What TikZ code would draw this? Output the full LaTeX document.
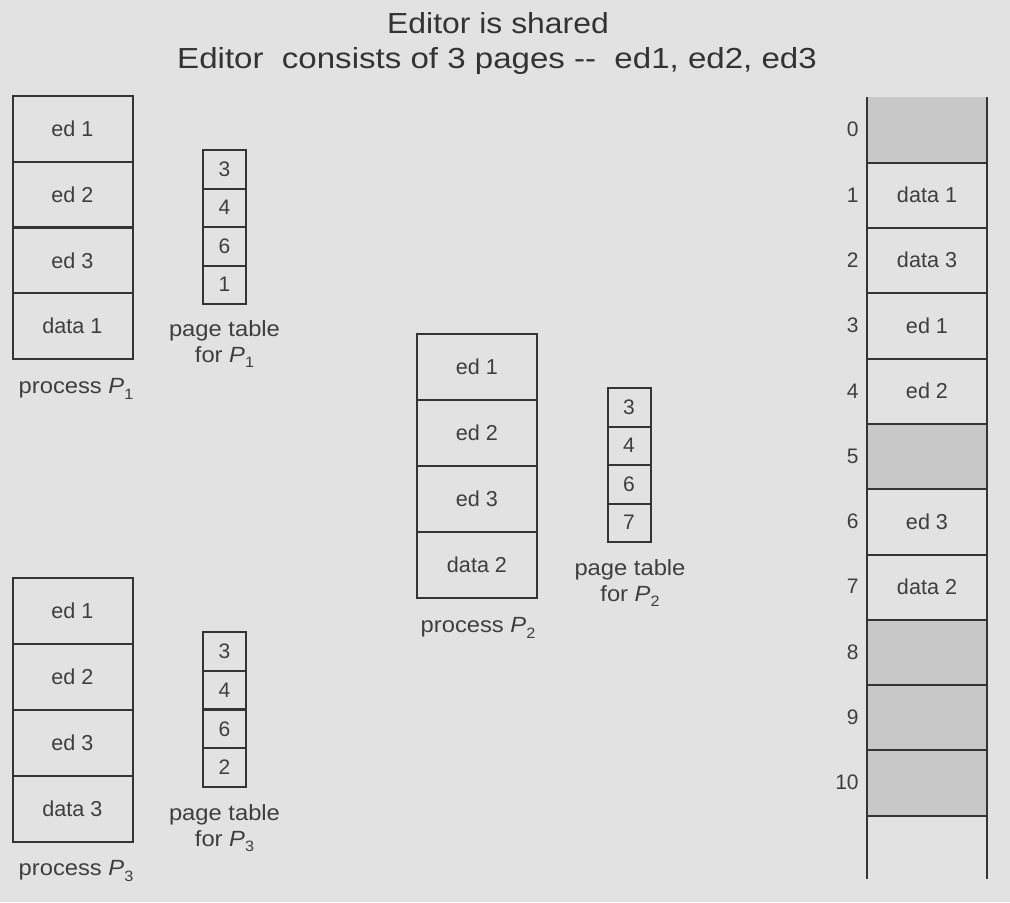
\documentclass[tikz,border=0pt]{standalone}
\usepackage{fontspec}
\setmainfont{Liberation Sans}
\definecolor{bg}{RGB}{226,226,226}
\definecolor{shade}{RGB}{200,200,201}
\definecolor{ln}{RGB}{52,52,52}
\definecolor{tx}{RGB}{62,62,62}
\newcommand{\subP}[1]{\textit{P}\raisebox{-0.45ex}{\fontsize{7.5}{9}\selectfont #1}}
\begin{document}
\begin{tikzpicture}[x=0.5pt,y=-0.5pt,
  cell/.style={draw=ln,line width=1pt,minimum width=60pt,minimum height=33pt,inner sep=0pt,text=tx,font=\fontsize{10.8}{13}\selectfont},
  ptcell/.style={draw=ln,line width=1pt,minimum width=21.5pt,minimum height=19.25pt,inner sep=0pt,text=tx,font=\fontsize{10.5}{13}\selectfont},
  frame/.style={minimum width=60pt,minimum height=32.65pt,inner sep=0pt,text=tx,font=\fontsize{10.8}{13}\selectfont},
  freeframe/.style={frame,fill=shade},
  lbl/.style={text=tx,font=\fontsize{11}{13}\selectfont,align=center,inner sep=0pt,xscale=1.08},
  num/.style={text=tx,font=\fontsize{10.5}{13}\selectfont,anchor=east,inner sep=0pt},
  memline/.style={draw=ln,line width=1pt},
  ttl/.style={text=black!80,font=\fontsize{14.5}{17}\selectfont,anchor=base,inner sep=0pt}
]
\fill[bg] (0,0) rectangle (1010,902);
\useasboundingbox (0,0) rectangle (1010,902);

% title
\node[ttl,xscale=1.1] (t1) at (498,33) {Editor is shared};
\node[ttl,xscale=1.14] (t2) at (497,68) {Editor\ \ consists of 3 pages -{}-\ \ ed1, ed2, ed3};

% process P1
\foreach \t [count=\i from 0] in {ed 1,ed 2,ed 3,data 1}
  \node[cell] (pa\i) at (72.5,{96+65.75*(\i+0.5)}) {\t};
\node[lbl] (pal) at (76,389) {process \subP{1}};
% page table P1
\foreach \t [count=\i from 0] in {3,4,6,1}
  \node[ptcell] (ta\i) at (224.5,{150+38.5*(\i+0.5)}) {\t};
\node[lbl] (tal) at (224.5,344) {page table\\for \subP{1}};

% process P2
\foreach \t [count=\i from 0] in {ed 1,ed 2,ed 3,data 2}
  \node[cell] (pb\i) at (477,{334+66*(\i+0.5)}) {\t};
\node[lbl] (pbl) at (478,628) {process \subP{2}};
% page table P2
\foreach \t [count=\i from 0] in {3,4,6,7}
  \node[ptcell] (tb\i) at (629,{388+38.5*(\i+0.5)}) {\t};
\node[lbl] (tbl) at (630,583) {page table\\for \subP{2}};

% process P3
\foreach \t [count=\i from 0] in {ed 1,ed 2,ed 3,data 3}
  \node[cell] (pc\i) at (72.5,{578+66*(\i+0.5)}) {\t};
\node[lbl] (pcl) at (76,871) {process \subP{3}};
% page table P3
\foreach \t [count=\i from 0] in {3,4,6,2}
  \node[ptcell] (tc\i) at (224.5,{632+38.75*(\i+0.5)}) {\t};
\node[lbl] (tcl) at (224.5,828) {page table\\for \subP{3}};

% physical memory
\foreach \t/\s [count=\i from 0] in {{}/freeframe,data 1/frame,data 3/frame,ed 1/frame,ed 2/frame,{}/freeframe,ed 3/frame,data 2/frame,{}/freeframe,{}/freeframe,{}/freeframe} {
  \node[\s] (f\i) at (927,{97+65.3*(\i+0.5)}) {\t};
  \node[num] (n\i) at (859,{97+65.3*(\i+0.5)}) {\i};
}
\foreach \i in {0,...,10}
  \draw[memline] (f\i.south west) -- (f\i.south east);
\coordinate (mtl) at (867,97);
\coordinate (mbl) at (867,879);
\coordinate (mtr) at (987,97);
\coordinate (mbr) at (987,879);
\draw[memline] (mtl) -- (mbl);
\draw[memline] (mtr) -- (mbr);
\end{tikzpicture}
\end{document}
